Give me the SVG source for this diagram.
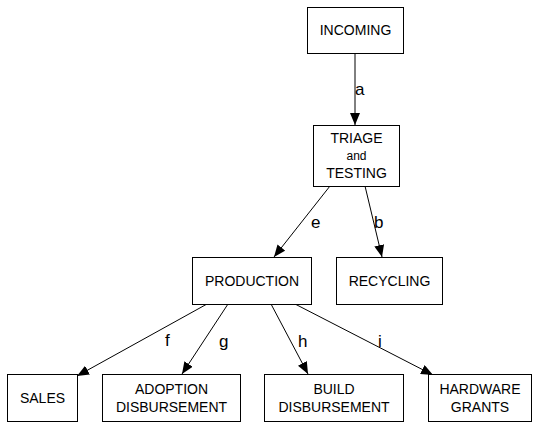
<svg xmlns="http://www.w3.org/2000/svg" width="539" height="427" viewBox="0 0 539 427">
<defs>
<marker id="ah" markerWidth="12" markerHeight="10" refX="12" refY="5" orient="auto" markerUnits="userSpaceOnUse">
<path d="M0,0 L12,5 L0,10 Z" fill="#000"/>
</marker>
<style>
rect{fill:#fff;stroke:#000;stroke-width:1}
text{font-family:"Liberation Sans",Arial,sans-serif;font-size:14px;fill:#000;text-anchor:middle}
.sm{font-size:12px}
.lb{font-size:17px;text-anchor:start}
line{stroke:#000;stroke-width:1;marker-end:url(#ah)}
</style>
</defs>
<rect x="0" y="0" width="539" height="427" style="stroke:none"/>
<g id="connectors">
<line x1="355" y1="53" x2="355" y2="125"/>
<line x1="330" y1="186" x2="274" y2="257"/>
<line x1="365" y1="186" x2="382" y2="257"/>
<line x1="207" y1="304" x2="77" y2="376"/>
<line x1="228" y1="304" x2="182" y2="374"/>
<line x1="271" y1="304" x2="308" y2="374"/>
<line x1="295" y1="304" x2="433" y2="375"/>
<text class="lb" x="355" y="95">a</text>
<text class="lb" x="311" y="228">e</text>
<text class="lb" x="374" y="228">b</text>
<text class="lb" x="165" y="346">f</text>
<text class="lb" x="219" y="347">g</text>
<text class="lb" x="298" y="347">h</text>
<text class="lb" x="378" y="347">i</text>
</g>
<g id="incoming"><rect x="307.5" y="7.5" width="96" height="46"/><text x="355.5" y="35">INCOMING</text></g>
<g id="triage"><rect x="313.5" y="125.5" width="86" height="61"/><text x="356.5" y="143">TRIAGE</text><text class="sm" x="356.5" y="160">and</text><text x="356.5" y="178">TESTING</text></g>
<g id="production"><rect x="192.5" y="257.5" width="119" height="47"/><text x="252" y="286">PRODUCTION</text></g>
<g id="recycling"><rect x="336.5" y="257.5" width="106" height="47"/><text x="389.5" y="286">RECYCLING</text></g>
<g id="sales"><rect x="7.5" y="374.5" width="70" height="47"/><text x="42.5" y="403">SALES</text></g>
<g id="adoption"><rect x="102.5" y="374.5" width="138" height="47"/><text x="171.5" y="394">ADOPTION</text><text x="171.5" y="412">DISBURSEMENT</text></g>
<g id="build"><rect x="264.5" y="374.5" width="139" height="47"/><text x="334" y="394">BUILD</text><text x="334" y="412">DISBURSEMENT</text></g>
<g id="hardware"><rect x="428.5" y="374.5" width="103" height="47"/><text x="480" y="394">HARDWARE</text><text x="480" y="412">GRANTS</text></g>
</svg>
